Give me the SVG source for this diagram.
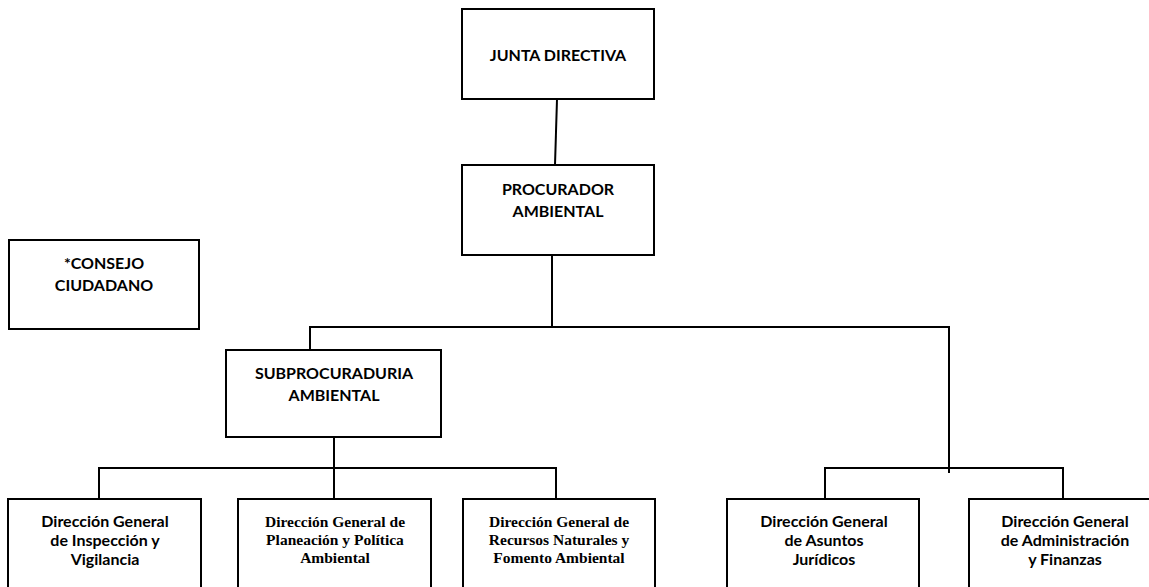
<svg xmlns="http://www.w3.org/2000/svg" width="1149" height="587" viewBox="0 0 1149 587">
<style>
.box{fill:#fff;stroke:#000;stroke-width:2}
.c{fill:none;stroke:#000;stroke-width:2}
.t{font-family:Lato,"Liberation Sans",sans-serif;font-weight:bold;font-size:16px;fill:#000;text-anchor:middle}
.s{font-family:"Liberation Serif","Times New Roman",serif;font-weight:bold;font-size:15.5px;fill:#000;text-anchor:middle}
</style>
<rect width="1149" height="587" fill="#fff"/>
<g id="connectors">
<path class="c" d="M557,99 L555,165"/>
<path class="c" d="M552,255 L552,327"/>
<path class="c" d="M310,350 L310,327 L949,327 L949,473"/>
<path class="c" d="M334,437 L334,499"/>
<path class="c" d="M99,499 L99,468 L556,468 L556,499"/>
<path class="c" d="M825,499 L825,468 L1063,468 L1063,499"/>
</g>
<g id="junta">
<rect class="box" x="462" y="9" width="192" height="90"/>
<text class="t" x="558" y="61">JUNTA DIRECTIVA</text>
</g>
<g id="procurador">
<rect class="box" x="462" y="165" width="192" height="90"/>
<text class="t" x="558" y="195">PROCURADOR</text>
<text class="t" x="558" y="217">AMBIENTAL</text>
</g>
<g id="consejo">
<rect class="box" x="9" y="240" width="190" height="89"/>
<text class="t" x="104" y="269">*CONSEJO</text>
<text class="t" x="104" y="291">CIUDADANO</text>
</g>
<g id="subprocuraduria">
<rect class="box" x="226" y="350" width="215" height="87"/>
<text class="t" x="334" y="379">SUBPROCURADURIA</text>
<text class="t" x="334" y="401">AMBIENTAL</text>
</g>
<g id="inspeccion">
<rect class="box" x="8" y="499" width="193" height="100"/>
<text class="t" x="105" y="527">Dirección General</text>
<text class="t" x="105" y="546">de Inspección y</text>
<text class="t" x="105" y="565">Vigilancia</text>
</g>
<g id="planeacion">
<rect class="box" x="238" y="499" width="193" height="100"/>
<text class="s" x="335" y="527">Dirección General de</text>
<text class="s" x="335" y="545">Planeación y Política</text>
<text class="s" x="335" y="563">Ambiental</text>
</g>
<g id="recursos">
<rect class="box" x="463" y="499" width="192" height="100"/>
<text class="s" x="559" y="527">Dirección General de</text>
<text class="s" x="559" y="545">Recursos Naturales y</text>
<text class="s" x="559" y="563">Fomento Ambiental</text>
</g>
<g id="juridicos">
<rect class="box" x="727" y="499" width="192" height="100"/>
<text class="t" x="824" y="527">Dirección General</text>
<text class="t" x="824" y="546">de Asuntos</text>
<text class="t" x="824" y="565">Jurídicos</text>
</g>
<g id="administracion">
<rect class="box" x="969" y="499" width="193" height="100"/>
<text class="t" x="1065" y="527">Dirección General</text>
<text class="t" x="1065" y="546">de Administración</text>
<text class="t" x="1065" y="565">y Finanzas</text>
</g>
</svg>
